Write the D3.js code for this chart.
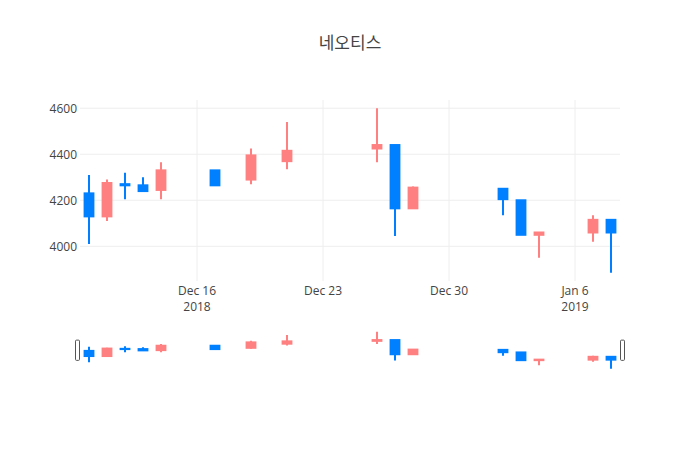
<!DOCTYPE html>
<html>
<head>
<meta charset="utf-8">
<script src="https://cdn.jsdelivr.net/npm/d3@7"></script>
<style>
  body { margin: 0; background: #fff; }
  svg { font-family: "Open Sans", "Noto Sans CJK KR", sans-serif; }
</style>
</head>
<body>
<svg width="700" height="450"></svg>
<script>
const title = '네오티스';
const dates = ['2018-12-10', '2018-12-11', '2018-12-12', '2018-12-13', '2018-12-14',
  '2018-12-17', '2018-12-19', '2018-12-21', '2018-12-26', '2018-12-27', '2018-12-28',
  '2019-01-02', '2019-01-03', '2019-01-04', '2019-01-07', '2019-01-08'];
const opens = [4230, 4130, 4270, 4265, 4245, 4330, 4290, 4370, 4425, 4440, 4165, 4250, 4200, 4050, 4060, 4115];
const highs = [4310, 4290, 4320, 4300, 4365, 4330, 4425, 4540, 4600, 4440, 4260, 4250, 4200, 4060, 4135, 4115];
const lows = [4010, 4110, 4205, 4240, 4205, 4265, 4270, 4335, 4365, 4045, 4165, 4135, 4050, 3950, 4020, 3885];
const closes = [4130, 4275, 4265, 4240, 4330, 4265, 4395, 4415, 4440, 4165, 4255, 4205, 4050, 4060, 4115, 4060];
const tickDates = ['2018-12-16', '2018-12-23', '2018-12-30', '2019-01-06'];
const yTicks = [4000, 4200, 4400, 4600];

const upColor = '#ff8080';
const downColor = '#0080ff';

const parse = d3.timeParse('%Y-%m-%d');
const data = dates.map((d, i) => ({
  date: parse(d), open: opens[i], high: highs[i], low: lows[i], close: closes[i]
}));

const svg = d3.select('svg');
const plotLeft = 80, plotRight = 620, plotTop = 100, plotBottom = 281;
const sliderTop = 330, sliderBottom = 370.5;

const first = d3.timeHour.offset(data[0].date, -12);
const last = d3.timeHour.offset(data[data.length - 1].date, 12);
const xScale = d3.scaleTime().domain([first, last]).range([plotLeft, plotRight]);

const lo = d3.min(lows), hi = d3.max(highs);
const pad = (hi - lo) * 0.05;
const yScale = d3.scaleLinear().domain([lo - pad, hi + pad]).range([plotBottom, plotTop]);
const ySlider = d3.scaleLinear().domain([lo - pad, hi + pad]).range([sliderBottom, sliderTop]);

const dayPx = xScale(d3.timeDay.offset(first, 1)) - xScale(first);
const boxW = dayPx * 0.49;

// gridlines
svg.append('g')
  .selectAll('line')
  .data(tickDates.map(parse))
  .enter()
  .append('line')
  .attr('x1', d => xScale(d)).attr('x2', d => xScale(d))
  .attr('y1', plotTop).attr('y2', plotBottom)
  .style('stroke', '#eee');

svg.append('g')
  .selectAll('line')
  .data(yTicks)
  .enter()
  .append('line')
  .attr('x1', plotLeft).attr('x2', plotRight)
  .attr('y1', d => yScale(d)).attr('y2', d => yScale(d))
  .style('stroke', '#eee');

// axes
const yAxis = d3.axisLeft(yScale)
  .tickValues(yTicks)
  .tickFormat(d3.format('d'))
  .tickSize(0)
  .tickPadding(3);
svg.append('g')
  .attr('transform', 'translate(' + plotLeft + ',0)')
  .call(yAxis)
  .call(g => g.select('.domain').remove())
  .selectAll('text')
  .style('font-size', '12px')
  .style('fill', '#444')
  .style('font-family', '"Open Sans", sans-serif');

const fmt = d3.timeFormat('%b %-d');
const xLabels = svg.append('g')
  .selectAll('text')
  .data(tickDates.map(parse))
  .enter()
  .append('text')
  .attr('x', d => xScale(d))
  .attr('y', plotBottom + 14)
  .attr('text-anchor', 'middle')
  .style('font-size', '12px')
  .style('fill', '#444');
xLabels.append('tspan').text(fmt);
xLabels.filter((d, i, n) => i === 0 || d.getFullYear() !== d3.select(n[i - 1]).datum().getFullYear())
  .append('tspan')
  .attr('x', d => xScale(d))
  .attr('dy', 15.5)
  .text(d => d.getFullYear());

function candles(g, y) {
  const c = g.selectAll('g.candle')
    .data(data)
    .enter()
    .append('g')
    .attr('class', 'candle')
    .attr('transform', d => 'translate(' + xScale(d.date) + ',0)');
  c.each(function(d) {
    const color = d.close >= d.open ? upColor : downColor;
    d3.select(this).append('line')
      .attr('y1', y(d.high)).attr('y2', y(d.low))
      .style('stroke', color).style('stroke-width', 2);
    d3.select(this).append('rect')
      .attr('x', -boxW / 2)
      .attr('width', boxW)
      .attr('y', y(Math.max(d.open, d.close)))
      .attr('height', Math.abs(y(d.open) - y(d.close)))
      .style('fill', color)
      .style('stroke', color)
      .style('stroke-width', 2);
  });
}

candles(svg.append('g'), yScale);
candles(svg.append('g'), ySlider);

// range slider handles
const hh = (sliderBottom - sliderTop) / 2;
svg.append('g')
  .selectAll('rect')
  .data([plotLeft - 4.5, plotRight + 0.5])
  .enter()
  .append('rect')
  .attr('x', d => d)
  .attr('y', sliderTop + hh / 2)
  .attr('width', 4)
  .attr('height', hh)
  .attr('rx', 1)
  .style('fill', '#fff')
  .style('stroke', '#555');

svg.append('text')
  .attr('x', 350)
  .attr('y', 49)
  .attr('text-anchor', 'middle')
  .style('font-size', '17px')
  .style('fill', '#444')
  .text(title);
</script>
</body>
</html>
